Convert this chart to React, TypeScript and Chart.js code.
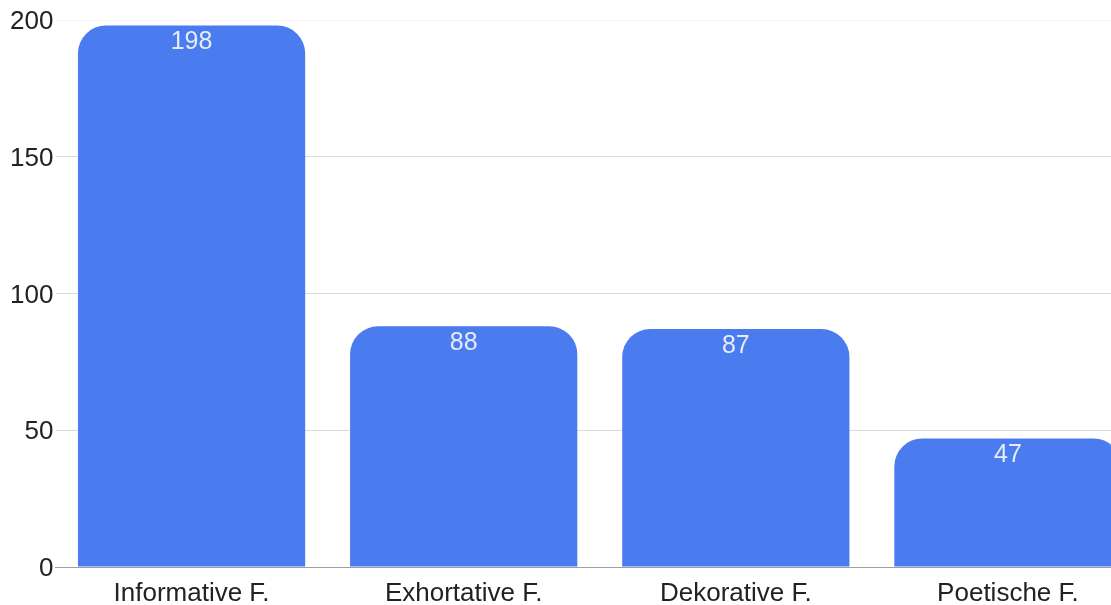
import React, { useEffect, useRef } from "react";
import { Chart, registerables } from "chart.js";

Chart.register(...registerables);

const categories = ["Informative F.", "Exhortative F.", "Dekorative F.", "Poetische F."];
const values = [198, 88, 87, 47];
const yTicks = [0, 50, 100, 150, 200];

const FONT = "'Liberation Sans', Arial, sans-serif";

const valueLabels = {
  id: "valueLabels",
  afterDatasetsDraw(chart: any) {
    const ctx = chart.ctx;
    const meta = chart.getDatasetMeta(0);
    ctx.save();
    ctx.font = `25px ${FONT}`;
    ctx.fillStyle = "#e6ecf8";
    ctx.textAlign = "center";
    ctx.textBaseline = "middle";
    meta.data.forEach((bar: any, i: number) => {
      ctx.fillText(String(values[i]), bar.x, bar.y + 17);
    });
    ctx.restore();
  },
};

export default function App() {
  const ref = useRef<HTMLCanvasElement | null>(null);
  useEffect(() => {
    if (!ref.current) return;
    const chart = new Chart(ref.current, {
      type: "bar",
      data: {
        labels: categories,
        datasets: [
          {
            data: values,
            backgroundColor: "#4a7bef",
            borderRadius: { topLeft: 28, topRight: 28, bottomLeft: 0, bottomRight: 0 },
            borderSkipped: false,
            categoryPercentage: 1,
            barPercentage: 0.835,
          },
        ],
      },
      options: {
        responsive: false,
        animation: false,
        layout: { padding: { top: 20, right: 16, left: 0, bottom: 0 } },
        plugins: { legend: { display: false }, tooltip: { enabled: false } },
        scales: {
          x: {
            grid: { display: false },
            border: { display: true, color: "#a0a0a0", width: 1 },
            ticks: { color: "#222", font: { family: FONT, size: 26 }, padding: 3 },
            afterFit: (s: any) => {
              s.height = 38;
            },
          },
          y: {
            min: 0,
            max: 200,
            afterBuildTicks: (s: any) => {
              s.ticks = yTicks.map((v) => ({ value: v }));
            },
            grid: {
              drawTicks: false,
              color: (c: any) =>
                c.tick && c.tick.value === 200 ? "#f5f5f5" : c.tick && c.tick.value === 0 ? "#a0a0a0" : "#dadada",
            },
            border: { display: false },
            ticks: { color: "#222", font: { family: FONT, size: 26 }, padding: 2, labelOffset: 2 },
            afterFit: (s: any) => {
              s.width = 55.5;
            },
          },
        },
      },
      plugins: [valueLabels],
    });
    return () => chart.destroy();
  }, []);
  return (
    <div style={{ position: "absolute", left: 0, top: 0, width: 1111, height: 605, overflow: "hidden", background: "#fff" }}>
      <canvas ref={ref} width={1160} height={605} style={{ display: "block" }} />
    </div>
  );
}
